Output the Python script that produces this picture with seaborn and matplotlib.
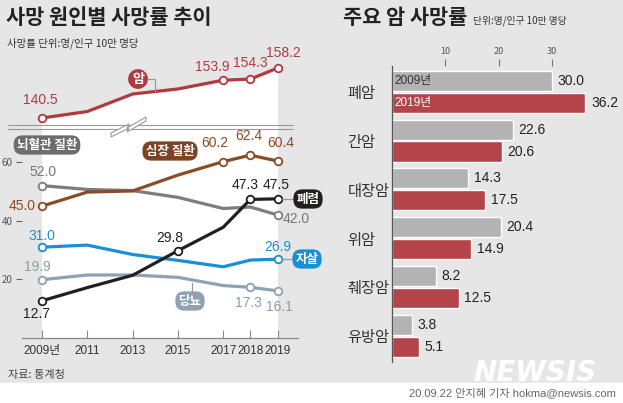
import numpy as np
import pandas as pd
import seaborn as sns
import matplotlib.pyplot as plt
from matplotlib.patches import Rectangle, Polygon
from matplotlib.lines import Line2D

# ---- data ----
years = [2009, 2011, 2013, 2015, 2017, 2018, 2019]
year_labels = ["2009년", "2011", "2013", "2015", "2017", "2018", "2019"]
cancer = [140.5, 142.8, 149.0, 150.8, 153.9, 154.3, 158.2]
heart = [45.0, 49.8, 50.2, 55.6, 60.2, 62.4, 60.4]
cerebro = [52.0, 50.7, 50.3, 48.0, 44.2, 44.7, 42.0]
pneumonia = [12.7, 17.2, 21.4, 29.8, 37.8, 47.3, 47.5]
suicide = [31.0, 31.7, 28.5, 26.5, 24.3, 26.6, 26.9]
diabetes = [19.9, 21.5, 21.5, 20.7, 17.9, 17.3, 16.1]

cancer_types = ["폐암", "간암", "대장암", "위암", "췌장암", "유방암"]
rate_2009 = [30.0, 22.6, 14.3, 20.4, 8.2, 3.8]
rate_2019 = [36.2, 20.6, 17.5, 14.9, 12.5, 5.1]

W, H = 623, 403
BG = "#e6e6e6"
RED = "#b23a3f"
BROWN = "#8a4b25"
GRAY = "#7d7d7d"
BLACK = "#231f1f"
BLUE = "#1a8fd6"
BGRAY = "#8ea2b4"

sns.set_style("ticks")
KR = ["Noto Sans CJK KR", "DejaVu Sans"]
NUM = ["Liberation Sans", "Noto Sans CJK KR"]
plt.rcParams["font.family"] = KR
VAL_FS = 10


def fx(x):
    return x / W


def fy(y):
    return 1 - y / H


def fwd(x):
    x = np.asarray(x, float)
    return np.where(x <= 2017, (x - 2009) / 2, 4 + (x - 2017) * 0.6)


def inv(u):
    u = np.asarray(u, float)
    return np.where(u <= 4, 2009 + 2 * u, 2017 + (u - 4) / 0.6)


fig = plt.figure(figsize=(6.23, 4.03), dpi=100, facecolor=BG)
fig.add_artist(Rectangle((0, 0), 1, 20 / H, transform=fig.transFigure,
                         color="white", zorder=0))

# ---- left panel: lower axes ----
ax = fig.add_axes([fx(22), fy(338), fx(276), 214 / H], facecolor="none")
ax.set_xscale("function", functions=(fwd, inv))
ax.axvspan(2009, 2019, color="white", zorder=0, lw=0)

causes = ["심장 질환", "뇌혈관 질환", "폐렴", "자살", "당뇨"]
series = [heart, cerebro, pneumonia, suicide, diabetes]
colors = {"심장 질환": BROWN, "뇌혈관 질환": GRAY, "폐렴": BLACK,
          "자살": BLUE, "당뇨": BGRAY}
df = pd.DataFrame({
    "year": years * len(causes),
    "cause": [c for c in causes for _ in years],
    "rate": [v for s in series for v in s],
})
sns.lineplot(data=df, x="year", y="rate", hue="cause", palette=colors,
             hue_order=["뇌혈관 질환", "당뇨", "자살", "심장 질환", "폐렴"],
             linewidth=2.3, legend=False, ax=ax)

# labelled points: (year, dx, dy, ha)
label_spec = {
    "심장 질환": [(2009, -6, 0, "right"), (2017, -8, 19, "center"),
               (2018, -2, 19, "center"), (2019, 3, 18, "center")],
    "뇌혈관 질환": [(2009, 1, 14, "center"), (2019, 5, -4, "left")],
    "폐렴": [(2009, -6, -13, "center"), (2015, -8, 13, "center"),
           (2018, -5, 14, "center"), (2019, -1, 14, "center")],
    "자살": [(2009, 0, 11, "center"), (2019, 0, 12, "center")],
    "당뇨": [(2009, -5, 13, "center"), (2018, -2, -16, "center"),
           (2019, 2, -16, "center")],
}
label_colors = {"심장 질환": BROWN, "뇌혈관 질환": "#777777", "폐렴": BLACK,
                "자살": BLUE, "당뇨": "#8a9bab"}
for cause, vals in zip(causes, series):
    for yr, dx, dy, ha in label_spec[cause]:
        v = vals[years.index(yr)]
        ax.scatter([yr], [v], s=30, facecolor="white", edgecolor=colors[cause],
                   linewidth=1.3, zorder=5)
        ax.annotate(f"{v:.1f}", (yr, v), xytext=(dx, dy), textcoords="offset pixels",
                    ha=ha, va="center", fontsize=VAL_FS, family=NUM,
                    color=label_colors[cause])

ax.set_xlim(2008.117, 2019.752)
ax.set_ylim(0, 214 / 2.93)
ax.set_xticks(years)
ax.set_xticklabels(year_labels, family=NUM, fontsize=8.5, color="#333333")
ax.set_yticks([20, 40, 60])
ax.set_yticklabels(["20", "40", "60"], fontsize=7, color="#555555")
ax.tick_params(axis="x", direction="in", length=6, width=0.8, color="#888888", pad=5)
ax.tick_params(axis="y", direction="out", length=4, width=0.8, color="#666666", pad=3)
ax.xaxis.set_minor_locator(plt.NullLocator())
for s in ["left", "top", "right"]:
    ax.spines[s].set_visible(False)
ax.spines["bottom"].set_color("#888888")
ax.spines["bottom"].set_linewidth(0.9)
ax.set_xlabel("")
ax.set_ylabel("")

# ---- left panel: upper axes (cancer) ----
axc = fig.add_axes([fx(22), fy(124), fx(276), 69 / H], facecolor="none")
axc.set_xscale("function", functions=(fwd, inv))
axc.fill_between(years, cancer, 100, color="white", lw=0, zorder=0)
sns.lineplot(x=years, y=cancer, color=RED, linewidth=2.3, ax=axc)
for yr, dx, dy in [(2009, -2, 18), (2017, -11, 13), (2018, 0, 16), (2019, 6, 15)]:
    v = cancer[years.index(yr)]
    axc.scatter([yr], [v], s=30, facecolor="white", edgecolor=RED,
                linewidth=1.3, zorder=5)
    axc.annotate(f"{v:.1f}", (yr, v), xytext=(dx, dy), textcoords="offset pixels",
                 ha="center", va="center", fontsize=VAL_FS, family=NUM, color=RED)
axc.set_xlim(2008.117, 2019.752)
axc.set_ylim(140.5 - 6 / 2.82, 140.5 + 63 / 2.82)
axc.axis("off")

# axis break
for yb in (125, 128.5):
    fig.add_artist(Line2D([fx(8), fx(293)], [fy(yb), fy(yb)], color="#999999",
                          lw=0.8, zorder=3))
zz = [(111, 135), (129, 126), (127, 130), (146, 119)]
poly = [(x, y - 2) for x, y in zz] + [(x, y + 2) for x, y in zz[::-1]]
fig.add_artist(Polygon([(fx(x), fy(y)) for x, y in poly], closed=True,
                       transform=fig.transFigure, facecolor="white",
                       edgecolor="#999999", lw=0.8, zorder=4))

# badges
def badge(x, y, text, fc, style="round,pad=0.25,rounding_size=0.7", size=9):
    fig.text(fx(x), fy(y), text, ha="center", va="center", color="white",
             fontsize=size, fontweight="bold",
             bbox=dict(boxstyle=style, fc=fc, ec="none"), zorder=6)


def connector(pts):
    fig.add_artist(Line2D([fx(p[0]) for p in pts], [fy(p[1]) for p in pts],
                          color="#999999", lw=0.9, zorder=2))


connector([(146, 79), (155, 79), (155, 91)])
badge(138, 79, "암", RED, style="circle,pad=0.22", size=9.5)
badge(47, 145, "뇌혈관 질환", "#6d6d6d")
badge(170, 151, "심장 질환", "#7b4424")
connector([(282, 199), (296, 199)])
badge(308, 199, "폐렴", BLACK)
connector([(282, 259), (295, 259)])
badge(307, 259, "자살", BLUE)
connector([(192, 283), (192, 296)])
badge(190, 301, "당뇨", BGRAY)

# titles and source
fig.text(fx(6), fy(18), "사망 원인별 사망률 추이", fontsize=15, fontweight="bold",
         color="#222222", va="center")
fig.text(fx(7), fy(43), "사망률 단위:명/인구 10만 명당", fontsize=7.5,
         color="#333333", va="center")
fig.text(fx(8), fy(375), "자료: 통계청", fontsize=8, color="#444444", va="center")

# ---- right panel: bars ----
axr = fig.add_axes([fx(391.7), fy(362), fx(214), 296 / H], facecolor="none")
bars = pd.DataFrame({
    "cancer": cancer_types * 2,
    "year": ["2009년"] * len(cancer_types) + ["2019년"] * len(cancer_types),
    "rate": rate_2009 + rate_2019,
})
sns.barplot(data=bars, x="rate", y="cancer", hue="year", orient="h",
            palette=["#b3b3b3", "#b5434a"], saturation=1, width=0.9, gap=0.08,
            legend=False, ax=axr)
for cont in axr.containers:
    axr.bar_label(cont, fmt="%.1f", padding=4, fontsize=VAL_FS, family=NUM,
                  color="#222222")
axr.text(0.6, -0.225, "2009년", va="center", ha="left", fontsize=8.5,
         family=NUM, color="#333333")
axr.text(0.6, 0.225, "2019년", va="center", ha="left", fontsize=8.5,
         family=NUM, color="white")
axr.set_xlim(0, 40)
axr.set_ylim(5.54, -0.53)
axr.xaxis.tick_top()
axr.set_xticks([10, 20, 30])
axr.set_xticklabels(["10", "20", "30"], fontsize=6.5, color="#555555")
axr.tick_params(axis="x", direction="out", length=5, width=0.8, color="#777777", pad=2)
axr.tick_params(axis="y", length=0, pad=32)
for lab in axr.get_yticklabels():
    lab.set_ha("left")
    lab.set_fontsize(11)
    lab.set_color("#333333")
for s in ["top", "right", "bottom"]:
    axr.spines[s].set_visible(False)
axr.spines["left"].set_color("#555555")
axr.spines["left"].set_linewidth(0.9)
axr.set_xlabel("")
axr.set_ylabel("")

fig.text(fx(343), fy(18), "주요 암 사망률", fontsize=15, fontweight="bold",
         color="#222222", va="center")
fig.text(fx(473), fy(21), "단위:명/인구 10만 명당", fontsize=7, color="#333333",
         va="center")

# watermark and credit
fig.text(fx(535), fy(373), "NEWSIS", fontsize=20, fontweight="bold", style="italic",
         color="white", ha="center", va="center", family="DejaVu Sans", zorder=1)
fig.text(fx(616), fy(393), "20.09.22 안지혜 기자 hokma@newsis.com", fontsize=8,
         color="#666666", ha="right", va="center", family=NUM)

fig.savefig("out.png", dpi=100, facecolor=BG)
